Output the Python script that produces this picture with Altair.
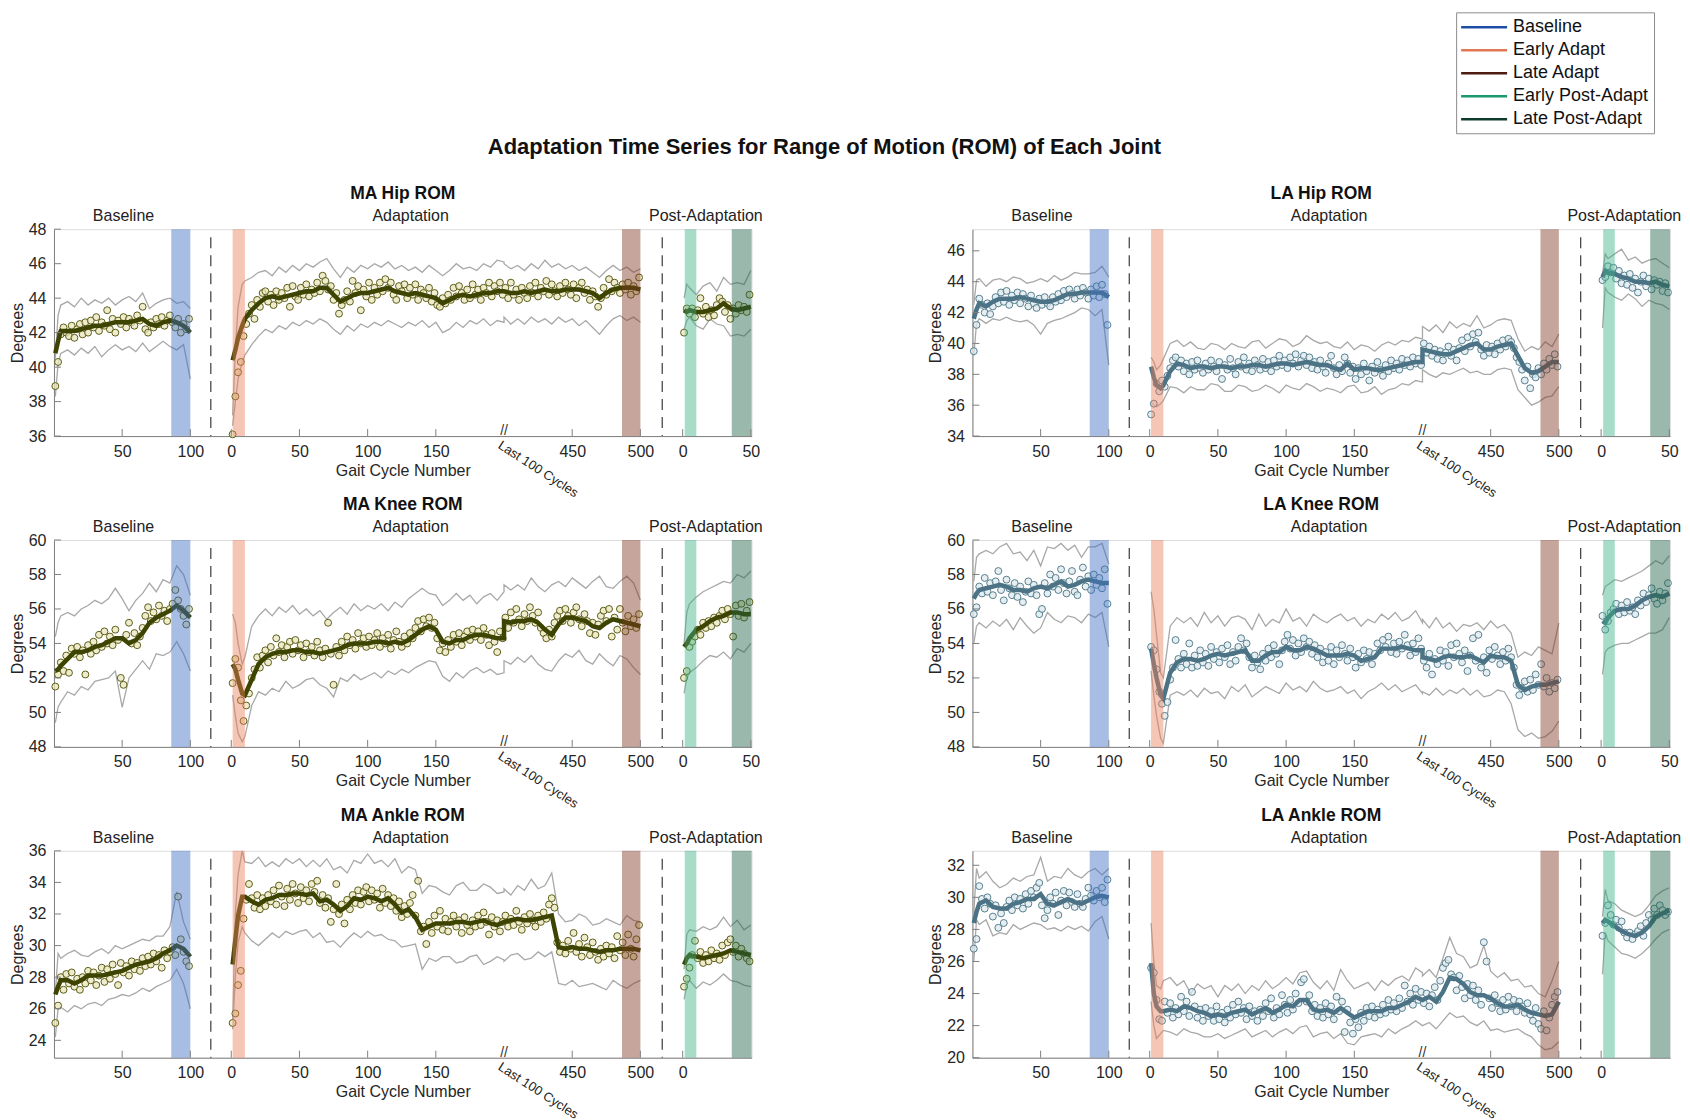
import altair as alt
import pandas as pd

# ---------------- sampling cycles (per phase) ----------------
BASE_LINE_C = [1, 3, 5] + list(range(10, 101, 5))
ADAPT_LINE_C = [1, 3, 5, 8] + list(range(10, 201, 5)) + list(range(400, 501, 5))
POST_LINE_C = [1, 3, 5] + list(range(10, 51, 5))
BASE_PT_C = list(range(1, 100, 2))
ADAPT_PT_C = list(range(1, 200, 2)) + list(range(401, 500, 2))
POST_PT_C = list(range(1, 50, 2))

# ---------------- MA Hip ----------------
MA_HIP_MEAN_B = [40.8, 41.5, 42.1, 42.1, 42.1, 42.2, 42.3, 42.4, 42.4, 42.5, 42.6, 42.6, 42.6, 42.7, 42.8, 42.5, 42.4, 42.6, 42.7, 42.6, 42.4, 42.0]
MA_HIP_UP_B = [40.5, 43.0, 43.6, 43.8, 43.5, 44.0, 43.6, 43.9, 43.7, 44.0, 43.6, 43.9, 44.1, 43.8, 44.3, 43.4, 43.7, 43.9, 44.0, 43.7, 43.8, 43.4]
MA_HIP_LO_B = [38.3, 40.2, 40.8, 41.0, 40.7, 41.1, 40.8, 41.2, 40.6, 41.0, 41.3, 41.0, 41.2, 40.9, 41.4, 40.9, 41.2, 41.5, 41.2, 41.0, 41.3, 39.3]
MA_HIP_MEAN_A = [40.4, 41.0, 41.7, 42.4,
                 42.8, 43.3, 43.7, 44.0, 44.1, 44.0, 44.1, 44.2, 44.3, 44.4,
                 44.4, 44.6, 44.6, 44.2, 43.8, 44.0, 44.2, 44.3, 44.3, 44.4,
                 44.5, 44.6, 44.4, 44.3, 44.2, 44.3, 44.2, 44.1, 44.0, 43.7,
                 43.9, 44.1, 44.2, 44.1, 44.2, 44.3, 44.3, 44.4, 44.4,
                 44.4, 44.3, 44.3, 44.4, 44.3, 44.4, 44.5, 44.4, 44.4, 44.5,
                 44.5, 44.5, 44.4, 44.3, 44.0, 44.3, 44.5, 44.6, 44.6, 44.6, 44.5]
MA_HIP_UP_A = [37.2, 41.0, 43.5, 44.8,
               45.0, 45.2, 45.5, 45.6, 45.3, 45.8, 45.5, 45.9, 45.6, 46.0,
               45.8, 46.1, 46.3, 45.7, 45.2, 45.8, 45.5, 45.9, 45.7, 46.0,
               45.8, 46.1, 45.7, 45.9, 45.6, 45.8, 45.5, 45.9, 45.6, 45.3,
               45.6, 46.0, 45.7, 45.8, 45.6, 46.0, 45.8, 46.2, 46.1,
               46.0, 45.7, 45.9, 45.6, 46.0, 45.7, 46.2, 45.8, 46.0, 45.7,
               45.9, 45.6, 45.8, 45.5, 45.2, 45.6, 45.9, 45.6, 45.8, 45.5, 45.7]
MA_HIP_LO_A = [36.6, 38.0, 39.3, 40.3,
               40.7, 41.3, 41.8, 42.2, 42.0, 42.4, 42.2, 42.6, 42.4, 42.7,
               42.5, 42.8, 42.6, 42.2, 41.9, 42.4, 42.1, 42.5, 42.3, 42.6,
               42.4, 42.7, 42.5, 42.3, 42.6, 42.4, 42.7, 42.3, 42.6, 42.0,
               42.2, 42.6, 42.3, 42.7, 42.5, 42.8, 42.4, 42.7, 42.6,
               42.9, 42.5, 42.8, 42.5, 42.9, 42.6, 42.8, 42.5, 42.9, 42.6,
               42.8, 42.4, 42.7, 42.3, 41.9, 42.4, 42.8, 43.0, 42.7, 42.9, 42.6]
MA_HIP_MEAN_P = [43.3, 43.2, 43.3, 43.2, 43.2, 43.3, 43.4, 43.7, 43.4, 43.3, 43.4, 43.5]
MA_HIP_UP_P = [44.0, 44.8, 44.6, 44.2, 44.7, 44.9, 44.4, 45.2, 44.8, 44.9, 44.8, 45.6]
MA_HIP_LO_P = [42.2, 42.7, 42.9, 42.4, 42.2, 42.8, 42.5, 42.4, 41.8, 41.9, 41.8, 42.2]
MA_HIP_PTS_B = [38.9, 40.3, 41.9, 42.3, 42.0, 41.8, 42.4, 41.7, 42.2, 42.5,
                41.9, 42.6, 42.0, 42.7, 42.3, 42.9, 42.1, 42.6, 42.4, 43.3,
                42.2, 42.8, 42.0, 42.7, 42.5, 42.9, 42.3, 42.8, 42.6, 42.4,
                43.0, 42.7, 43.5, 42.2, 42.0, 42.6, 42.3, 42.8, 42.5, 42.9,
                42.4, 42.7, 43.0, 42.6, 42.3, 42.8, 42.0, 42.5, 42.2, 42.8]
MA_HIP_PTS_A = [36.1, 38.3, 39.7, 40.3, 41.8, 42.5, 43.1, 43.6, 42.8, 43.9,
                43.5, 44.3, 44.4, 43.8, 44.2, 43.6, 44.4, 43.9, 44.3, 44.0,
                44.6, 43.5, 44.7, 44.1, 43.9, 44.6, 44.2, 44.8, 44.1, 44.5,
                44.3, 44.9, 44.4, 45.3, 45.0, 44.5, 44.7, 43.9, 44.3, 43.1,
                43.6, 43.9, 44.4, 43.8, 45.0, 44.3, 44.7, 43.3, 44.5, 44.1,
                44.9, 43.9, 44.6, 44.2, 44.9, 44.4, 45.1, 44.6, 44.9, 44.2,
                43.9, 44.7, 44.4, 44.8, 44.0, 44.6, 44.2, 44.8, 43.9, 44.5,
                44.3, 44.0, 44.6, 43.8, 44.3, 43.6, 43.5, 44.0, 43.7, 44.2,
                43.9, 44.6, 44.1, 44.7, 44.3, 43.9, 44.5, 44.0, 44.8, 44.2,
                44.5, 43.9, 44.6, 44.3, 44.9, 44.1, 44.7, 44.4, 44.9, 44.2,
                44.6, 44.0, 44.9, 44.2, 44.5, 43.9, 44.6, 44.3, 44.0, 44.7,
                44.3, 44.9, 44.1, 44.6, 44.4, 45.0, 44.2, 44.8, 44.4, 44.1,
                44.7, 44.3, 44.9, 44.5, 44.2, 44.8, 44.0, 44.6, 44.9, 44.3,
                44.5, 43.9, 44.4, 44.1, 43.5, 44.0, 44.6, 44.2, 45.1, 44.4,
                44.9, 44.6, 44.3, 44.8, 44.5, 44.9, 44.2, 44.7, 44.4, 45.2]
MA_HIP_PTS_P = [42.0, 43.4, 43.1, 43.4, 42.9, 43.3, 44.0, 43.1, 43.5, 42.9,
                43.3, 43.0, 43.6, 44.0, 43.8, 43.2, 43.6, 42.8, 43.4, 43.1,
                43.6, 43.3, 43.5, 43.2, 44.2]

# ---------------- MA Knee ----------------
MA_KNEE_MEAN_B = [52.4, 52.5, 52.7, 53.1, 53.5, 53.5, 53.6, 53.8, 53.9, 54.1, 54.3, 54.3, 54.0, 54.2, 54.6, 55.2, 55.5, 55.7, 55.9, 56.2, 55.9, 55.5]
MA_KNEE_UP_B = [54.4, 55.2, 55.6, 55.8, 55.6, 56.0, 56.2, 56.5, 56.3, 56.6, 57.2, 56.6, 55.9, 56.5, 56.9, 57.5, 57.0, 57.7, 57.5, 58.5, 58.0, 56.8]
MA_KNEE_LO_B = [49.4, 50.3, 50.6, 51.2, 51.0, 51.5, 51.3, 51.8, 51.9, 52.0, 52.4, 50.3, 52.0, 52.5, 53.0, 52.5, 53.4, 53.3, 53.5, 54.1, 53.4, 52.4]
MA_KNEE_MEAN_A = [52.8, 52.5, 51.9, 51.1,
                  51.0, 51.9, 52.8, 53.2, 53.4, 53.5, 53.5, 53.6, 53.6, 53.5,
                  53.5, 53.4, 53.5, 53.6, 53.7, 53.9, 54.0, 54.0, 54.0, 54.1,
                  54.1, 54.0, 54.1, 54.0, 54.2, 54.5, 54.8, 55.0, 54.8, 54.1,
                  54.0, 54.2, 54.2, 54.4, 54.5, 54.5, 54.4, 54.3, 54.3,
                  55.3, 55.2, 55.3, 55.3, 55.4, 55.2, 54.8, 54.5, 55.1, 55.5,
                  55.5, 55.4, 55.3, 55.0, 54.9, 55.2, 55.4, 55.3, 55.2, 55.1, 55.0]
MA_KNEE_UP_A = [55.7, 55.2, 54.0, 52.8,
                53.2, 55.0, 55.6, 56.0, 55.6, 56.1, 55.8, 56.2, 55.7, 56.0,
                55.6, 55.9, 55.4, 55.8, 56.1, 55.7, 56.3, 55.9, 56.2, 56.0,
                56.3, 55.9, 56.4, 56.1, 56.6, 56.9, 57.2, 56.9, 56.8, 56.2,
                56.5, 56.9, 56.5, 56.8, 56.3, 56.7, 56.9, 56.5, 57.0,
                57.4, 57.1, 57.4, 57.1, 57.8, 57.3, 57.0, 57.4, 57.6, 57.3,
                57.8, 57.5, 57.2, 57.6, 57.9, 57.3, 57.2, 57.6, 57.9, 57.5, 56.5]
MA_KNEE_LO_A = [51.0, 49.8, 48.8, 48.3,
                48.6, 50.4, 51.2, 51.0, 51.4, 51.2, 51.8, 51.4, 51.6, 51.9,
                52.0, 51.6, 51.4, 50.9, 52.0, 51.8, 52.2, 51.9, 52.1, 52.3,
                52.0, 52.4, 52.2, 52.5, 52.3, 52.6, 52.8, 53.0, 52.9, 52.1,
                51.8, 52.3, 52.0, 52.4, 52.6, 52.3, 52.5, 52.2, 52.3,
                53.0, 52.8, 53.2, 52.9, 53.3, 52.8, 52.5, 52.4, 53.0, 53.4,
                53.2, 53.6, 53.0, 52.8, 53.4, 53.0, 52.7, 53.3, 53.1, 52.6, 52.2]
MA_KNEE_MEAN_P = [53.8, 54.0, 54.3, 54.8, 55.0, 55.3, 55.5, 55.6, 55.8, 55.8, 55.7, 55.7]
MA_KNEE_UP_P = [54.0, 55.8, 56.3, 56.7, 57.0, 57.2, 57.4, 57.6, 57.5, 58.0, 57.8, 58.2]
MA_KNEE_LO_P = [51.1, 52.0, 52.3, 52.6, 53.0, 53.3, 53.2, 53.5, 53.1, 53.7, 53.5, 54.0]
MA_KNEE_PTS_B = [51.5, 52.2, 52.9, 52.4, 53.3, 52.3, 53.7, 53.4, 53.8, 53.2,
                 53.6, 52.2, 53.9, 53.4, 54.1, 53.6, 54.5, 53.8, 54.7, 54.0,
                 54.4, 53.9, 54.8, 54.2, 52.0, 51.6, 54.5, 55.2, 54.0, 54.6,
                 53.9, 54.4, 54.9, 55.6, 56.1, 55.3, 55.8, 55.4, 56.2, 55.6,
                 55.9, 55.3, 56.0, 56.3, 57.1, 56.5, 56.0, 55.6, 55.1, 56.0]
MA_KNEE_PTS_A = [51.7, 53.1, 52.6, 50.7, 49.5, 50.4, 51.1, 52.0, 52.5, 53.2,
                 52.6, 53.3, 53.6, 52.9, 53.8, 53.3, 54.3, 53.5, 53.9, 53.2,
                 53.8, 54.1, 53.4, 54.2, 53.6, 53.9, 53.2, 54.0, 53.5, 53.8,
                 53.3, 54.1, 53.6, 53.2, 53.7, 55.2, 53.4, 51.6, 53.8, 53.3,
                 54.1, 53.6, 54.4, 53.9, 54.2, 53.7, 54.6, 54.0, 54.3, 53.8,
                 54.4, 53.9, 54.2, 54.6, 53.8, 54.3, 54.0, 54.5, 53.7, 54.2,
                 54.7, 54.1, 53.8, 54.4, 54.0, 54.6, 54.3, 54.9, 55.3, 54.7,
                 55.4, 55.0, 55.5, 54.9, 55.2, 54.3, 53.6, 54.0, 53.5, 54.2,
                 53.8, 54.5, 54.1, 54.6, 53.9, 54.4, 54.7, 54.2, 54.8, 54.4,
                 54.7, 54.2, 54.9, 54.5, 53.9, 54.6, 54.1, 53.5, 54.7, 54.3,
                 55.5, 54.9, 55.8, 55.2, 56.0, 55.4, 55.0, 55.7, 55.3, 56.1,
                 55.6, 55.2, 55.8, 54.9, 54.6, 54.3, 54.8, 54.4, 55.2, 55.6,
                 55.9, 55.3, 56.0, 55.6, 55.2, 55.8, 56.1, 55.4, 55.0, 55.7,
                 55.3, 54.6, 55.2, 54.5, 55.1, 55.6, 55.9, 55.3, 56.0, 54.4,
                 55.5, 54.8, 56.0, 55.2, 54.7, 55.6, 55.0, 55.4, 54.9, 55.7]
MA_KNEE_PTS_P = [52.0, 52.4, 53.8, 54.1, 54.4, 54.8, 54.5, 55.2, 54.9, 55.3,
                 55.0, 55.5, 55.2, 55.6, 55.9, 55.4, 56.0, 55.7, 54.4, 56.2,
                 55.6, 56.3, 55.5, 55.9, 56.4]

# ---------------- MA Ankle ----------------
MA_ANK_MEAN_B = [26.9, 27.4, 27.8, 27.8, 27.6, 27.8, 28.1, 28.1, 28.1, 28.2, 28.3, 28.4, 28.6, 28.8, 28.9, 29.0, 29.2, 29.5, 29.7, 30.0, 29.8, 29.3]
MA_ANK_UP_B = [27.0, 29.5, 29.2, 29.5, 29.7, 29.4, 29.3, 29.6, 29.8, 29.5, 30.0, 29.8, 30.0, 30.2, 30.4, 30.3, 30.6, 30.6, 31.2, 33.4, 31.5, 30.4]
MA_ANK_LO_B = [24.2, 26.0, 26.1, 25.8, 26.2, 26.0, 26.3, 26.4, 26.2, 26.6, 26.7, 26.9, 26.8, 27.0, 27.3, 27.1, 27.4, 27.6, 27.8, 28.5, 27.6, 26.0]
MA_ANK_MEAN_A = [28.8, 30.4, 31.9, 33.1,
                 33.1, 32.8, 32.6, 32.9, 33.0, 33.2, 33.2, 33.3, 33.3, 33.2,
                 33.3, 32.8, 32.9, 32.6, 32.2, 32.5, 33.0, 32.9, 33.1, 33.0,
                 32.8, 33.0, 32.6, 32.1, 32.3, 31.8, 31.0, 31.2, 31.4, 31.4,
                 31.4, 31.5, 31.5, 31.4, 31.5, 31.6, 31.4, 31.3, 31.5,
                 31.5, 31.6, 31.7, 31.6, 31.6, 31.7, 31.8, 31.9, 29.9, 29.8,
                 29.9, 29.8, 29.8, 29.7, 29.6, 29.7, 29.7, 29.8, 29.8, 29.8, 29.7]
MA_ANK_UP_A = [25.0, 32.0, 34.5, 36.0,
               35.3, 35.2, 35.6, 35.0, 35.3, 35.0, 35.5, 35.2, 35.5, 35.0,
               35.4, 35.0, 35.5, 34.8, 35.0, 34.6, 35.4, 35.2, 35.8, 35.2,
               35.4, 35.0, 35.5, 34.6, 35.0, 34.8, 33.3, 33.8, 33.7, 33.4,
               33.2, 33.8, 34.0, 33.5, 33.5, 33.9, 33.7, 33.3, 33.4,
               33.6, 33.2, 33.8, 33.5, 34.2, 33.6, 33.8, 34.6, 32.0, 31.5,
               31.6, 32.0, 31.8, 31.3, 31.4, 31.7, 31.5, 31.3, 31.9, 31.6, 31.5]
MA_ANK_LO_A = [24.7, 28.0, 30.2, 31.2,
               30.8, 30.3, 30.0, 30.4, 30.8, 30.5, 30.9, 30.7, 30.9, 31.0,
               30.5, 30.8, 30.2, 30.3, 29.9, 30.4, 30.8, 30.5, 30.9, 30.6,
               30.7, 30.4, 30.3, 29.9, 30.0, 30.1, 28.5, 29.2, 29.0, 29.3,
               29.3, 28.9, 29.0, 29.3, 29.4, 28.8, 29.0, 29.3, 29.1,
               29.0, 29.4, 29.5, 29.1, 29.2, 29.6, 29.3, 29.6, 27.6, 27.5,
               27.8, 27.4, 27.5, 27.6, 27.4, 27.2, 27.8, 27.5, 27.3, 27.6, 27.8]
MA_ANK_MEAN_P = [28.8, 29.2, 29.4, 29.3, 29.2, 29.3, 29.4, 29.5, 29.7, 29.6, 29.5, 29.4]
MA_ANK_UP_P = [28.5, 30.7, 31.0, 30.9, 31.2, 31.0, 31.2, 31.8, 31.2, 31.6, 31.0, 31.3]
MA_ANK_LO_P = [26.6, 27.5, 27.8, 27.3, 27.7, 27.5, 27.8, 28.2, 27.8, 27.7, 27.5, 27.4]
MA_ANK_PTS_B = [25.1, 26.2, 28.0, 27.2, 28.2, 27.6, 28.3, 27.4, 27.9, 27.2,
                28.0, 27.6, 28.4, 27.8, 28.3, 27.5, 28.1, 28.6, 27.7, 28.5,
                27.9, 28.8, 28.2, 27.5, 28.9, 28.3, 28.7, 28.1, 29.0, 28.5,
                28.9, 28.4, 29.2, 28.7, 29.3, 28.8, 29.5, 29.0, 29.4, 28.6,
                29.7, 29.2, 29.6, 29.9, 29.4, 33.1, 30.4, 29.6, 29.0, 28.7]
MA_ANK_PTS_A = [25.1, 25.7, 27.5, 28.4, 31.7, 32.9, 33.9, 33.0, 32.4, 33.2,
                32.3, 33.0, 32.5, 33.2, 32.8, 33.5, 32.6, 33.8, 33.1, 32.5,
                33.6, 32.9, 33.9, 33.3, 32.7, 33.7, 33.0, 33.5, 32.8, 33.9,
                33.4, 34.1, 32.7, 33.2, 32.4, 33.0, 31.5, 32.3, 33.9, 32.0,
                32.6, 31.4, 32.9, 32.3, 33.2, 32.7, 33.5, 32.6, 33.4, 33.7,
                32.8, 33.5, 32.9, 33.3, 32.4, 33.6, 32.7, 33.2, 32.5, 33.0,
                32.2, 32.8, 31.8, 32.5, 32.0, 32.7, 33.2, 31.9, 34.1, 30.9,
                31.2, 30.1, 31.5, 30.8, 31.9, 31.2, 32.2, 31.0, 31.7, 30.9,
                31.5, 31.9, 31.2, 31.6, 30.8, 31.8, 31.3, 30.9, 31.6, 31.2,
                31.9, 31.3, 32.1, 31.5, 30.7, 31.8, 31.2, 31.6, 30.9, 31.5,
                31.9, 31.2, 31.7, 31.3, 32.2, 31.5, 31.0, 31.8, 31.4, 32.0,
                31.6, 31.2, 31.9, 31.5, 32.1, 31.7, 32.6, 33.0, 32.4, 30.2,
                29.6, 30.0, 29.5, 30.3, 29.8, 30.8, 29.6, 30.1, 29.3, 30.5,
                29.9, 29.4, 30.2, 29.6, 29.1, 29.8, 29.3, 30.0, 29.5, 29.9,
                29.2, 30.6, 29.7, 30.2, 29.4, 30.7, 29.8, 29.3, 30.4, 31.3]
MA_ANK_PTS_P = [27.4, 27.9, 28.6, 29.4, 30.3, 29.2, 29.6, 28.9, 29.4, 29.0,
                29.7, 29.2, 29.5, 29.1, 30.0, 29.4, 30.2, 30.4, 29.6, 30.0,
                29.3, 29.8, 29.5, 29.2, 29.0]

# ---------------- LA Hip ----------------
LA_HIP_MEAN_B = [41.6, 42.2, 42.6, 42.4, 42.7, 42.9, 42.9, 42.9, 43.0, 42.9, 42.8, 42.7, 42.7, 42.8, 43.0, 43.2, 43.2, 43.3, 43.3, 43.3, 43.3, 43.0]
LA_HIP_UP_B = [42.5, 44.1, 44.2, 43.7, 44.1, 44.2, 44.0, 44.3, 44.2, 43.9, 44.0, 44.2, 44.0, 44.4, 44.1, 44.3, 44.6, 44.5, 44.5, 44.6, 45.0, 44.3]
LA_HIP_LO_B = [39.2, 41.3, 41.6, 41.3, 41.6, 41.5, 41.7, 41.5, 41.4, 41.5, 41.2, 40.6, 41.3, 41.5, 41.6, 41.8, 42.0, 42.3, 42.2, 41.8, 42.2, 38.6]
LA_HIP_MEAN_A = [38.5, 37.8, 37.3, 37.1,
                 37.3, 38.2, 38.7, 38.6, 38.4, 38.5, 38.5, 38.4, 38.5, 38.5,
                 38.4, 38.5, 38.5, 38.6, 38.6, 38.5, 38.6, 38.7, 38.7, 38.6,
                 38.7, 38.8, 38.7, 38.6, 38.6, 38.4, 38.3, 38.7, 38.3, 38.4,
                 38.4, 38.3, 38.3, 38.4, 38.5, 38.6, 38.7, 38.8, 38.8,
                 39.6, 39.5, 39.4, 39.3, 39.3, 39.5, 39.7, 39.9, 40.0, 39.6,
                 39.6, 39.8, 39.9, 40.0, 39.2, 38.4, 38.1, 38.2, 38.5, 38.8, 38.8]
LA_HIP_UP_A = [39.1, 38.8, 38.3, 38.6,
               39.0, 40.0, 40.2, 39.8, 40.1, 39.7, 39.6, 40.0, 39.9, 39.6,
               40.0, 39.8, 39.7, 40.1, 40.2, 39.7, 40.0, 40.3, 40.2, 39.8,
               40.0, 40.5, 40.2, 40.0, 40.1, 39.8, 39.7, 40.1, 39.6, 39.9,
               39.8, 39.5, 39.9, 40.1, 39.9, 40.2, 40.1, 40.4, 40.3,
               41.1, 40.8, 41.2, 40.7, 41.4, 41.0, 41.3, 41.1, 41.8, 41.0,
               41.2, 41.5, 41.6, 41.5, 40.3, 39.5, 39.8, 39.6, 40.1, 39.8, 40.6]
LA_HIP_LO_A = [36.2, 36.0, 35.9, 36.1,
               36.3, 37.2, 37.1, 36.8, 37.2, 37.0, 37.0, 37.4, 37.3, 36.9,
               36.9, 37.3, 37.2, 36.9, 37.0, 37.3, 37.1, 36.8, 37.3, 37.1,
               37.0, 37.4, 37.2, 36.9, 37.1, 37.0, 36.8, 37.2, 37.3, 36.8,
               36.9, 37.2, 36.7, 37.0, 37.1, 37.4, 37.3, 37.6, 37.5,
               38.3, 38.0, 37.8, 38.1, 38.0, 38.2, 38.4, 38.1, 38.2, 38.0,
               38.0, 38.3, 38.4, 38.3, 37.0, 36.5, 36.0, 36.2, 36.5, 36.6, 37.2]
LA_HIP_MEAN_P = [44.3, 44.7, 44.6, 44.5, 44.3, 44.2, 44.0, 44.0, 43.9, 44.0, 43.8, 43.7]
LA_HIP_UP_P = [44.5, 45.8, 45.5, 45.8, 46.1, 45.4, 45.6, 45.2, 45.4, 45.5, 45.2, 44.9]
LA_HIP_LO_P = [41.0, 43.6, 43.3, 43.0, 42.8, 43.2, 42.9, 42.4, 42.8, 42.6, 42.5, 42.2]
LA_HIP_PTS_B = [39.5, 41.2, 42.9, 42.5, 42.0, 42.6, 41.9, 42.4, 43.0, 42.6,
                43.3, 42.7, 43.4, 42.5, 43.1, 42.8, 43.3, 42.6, 43.2, 42.9,
                42.4, 43.1, 42.6, 42.3, 42.9, 42.5, 43.0, 42.6, 42.4, 43.0,
                42.7, 43.2, 42.8, 43.4, 43.0, 43.5, 43.2, 42.9, 43.5, 43.1,
                43.6, 43.3, 42.9, 43.5, 43.1, 43.7, 43.0, 43.8, 43.2, 41.2]
LA_HIP_PTS_A = [35.4, 36.1, 37.4, 36.9, 37.6, 37.2, 37.9, 38.4, 38.9, 39.1,
                38.5, 38.9, 38.2, 38.7, 38.0, 38.8, 38.3, 38.9, 38.4, 38.1,
                38.7, 38.3, 38.9, 38.5, 38.2, 38.8, 37.7, 38.6, 38.3, 39.0,
                38.4, 38.0, 38.8, 38.5, 39.1, 38.3, 38.7, 38.2, 38.9, 38.6,
                38.3, 39.0, 38.4, 38.8, 38.2, 38.9, 38.5, 39.2, 38.6, 38.9,
                38.4, 39.1, 38.7, 39.3, 38.5, 38.9, 39.2, 38.6, 39.1, 38.4,
                38.8, 38.3, 38.9, 38.5, 38.1, 38.7, 39.2, 38.4, 38.0, 38.6,
                38.2, 39.1, 38.7, 38.1, 38.5, 37.7, 38.4, 38.0, 38.7, 38.2,
                37.6, 38.5, 38.1, 38.8, 38.3, 37.9, 38.6, 38.2, 38.9, 38.4,
                38.7, 38.3, 39.0, 38.6, 38.9, 38.5, 39.1, 38.7, 39.0, 38.6,
                40.0, 39.4, 39.8, 39.2, 39.6, 39.0, 39.5, 38.9, 39.4, 39.8,
                39.2, 39.6, 38.9, 39.7, 40.2, 39.5, 40.4, 39.8, 40.6, 40.1,
                40.7, 39.6, 39.2, 39.9, 39.4, 39.8, 39.3, 40.0, 39.6, 40.2,
                39.8, 40.3, 40.1, 39.7, 39.1, 38.8, 38.3, 37.6, 38.5, 37.1,
                38.0, 37.8, 38.4, 38.0, 38.7, 38.3, 39.0, 38.6, 39.3, 38.5]
LA_HIP_PTS_P = [44.1, 44.3, 45.0, 44.6, 44.9, 44.2, 44.7, 43.9, 44.4, 43.8,
                44.5, 43.6, 44.2, 43.3, 44.0, 44.4, 43.7, 44.2, 43.5, 44.1,
                43.8, 44.0, 43.4, 43.9, 43.3]

# ---------------- LA Knee ----------------
LA_KNEE_MEAN_B = [56.6, 56.9, 57.1, 57.2, 57.3, 57.4, 57.3, 57.1, 57.1, 57.0, 57.2, 57.3, 57.2, 57.4, 57.6, 57.3, 57.4, 57.6, 57.7, 57.6, 57.5, 57.5]
LA_KNEE_UP_B = [57.6, 59.0, 59.2, 59.4, 59.2, 59.6, 59.8, 59.2, 59.3, 58.8, 59.4, 58.5, 59.6, 59.5, 59.8, 59.4, 59.7, 59.0, 59.6, 59.6, 59.8, 58.6]
LA_KNEE_LO_B = [54.0, 55.0, 55.2, 54.9, 55.3, 55.0, 55.4, 54.8, 55.5, 55.0, 54.6, 54.9, 55.8, 55.4, 55.2, 55.6, 55.5, 55.2, 55.7, 55.5, 55.8, 53.8]
LA_KNEE_MEAN_A = [53.7, 52.8, 52.0, 51.0,
                  50.8, 52.3, 52.9, 53.1, 53.1, 53.0, 53.1, 53.3, 53.4, 53.3,
                  53.4, 53.5, 53.6, 53.0, 53.0, 53.3, 53.5, 53.5, 53.8, 53.6,
                  53.6, 53.8, 53.7, 53.5, 53.3, 53.3, 53.3, 53.4, 53.3, 53.0,
                  53.1, 53.2, 53.7, 53.7, 53.7, 53.8, 53.7, 53.6, 53.6,
                  53.2, 53.1, 53.0, 53.2, 53.3, 53.2, 53.2, 53.3, 53.1, 52.9,
                  53.3, 53.2, 53.2, 53.0, 51.6, 51.3, 51.5, 51.6, 51.6, 51.7, 51.8]
LA_KNEE_UP_A = [57.0, 56.0, 54.5, 52.3,
                52.0, 55.0, 55.5, 55.2, 55.5, 55.0, 55.8, 55.2, 55.6, 55.0,
                55.5, 55.6, 55.4, 54.8, 55.7, 55.0, 55.4, 55.2, 56.0, 55.3,
                55.5, 55.0, 55.7, 55.4, 55.2, 55.5, 55.7, 55.3, 55.5, 55.0,
                55.4, 55.2, 55.7, 55.4, 55.8, 55.3, 55.5, 55.9, 55.2,
                55.4, 54.9, 55.5, 54.9, 55.2, 54.7, 55.1, 55.0, 55.2, 54.8,
                55.3, 54.9, 55.1, 54.6, 53.2, 53.5, 53.3, 53.8, 53.6, 53.4, 55.2]
LA_KNEE_LO_A = [52.4, 51.0, 49.8, 48.5,
                48.2, 51.0, 51.2, 51.0, 51.3, 50.9, 51.4, 51.1, 51.2, 50.8,
                51.5, 51.2, 51.6, 50.9, 51.2, 51.5, 51.3, 51.1, 51.7, 51.3,
                51.5, 51.2, 51.8, 51.4, 51.2, 51.3, 51.5, 51.1, 51.3, 50.8,
                51.2, 51.4, 51.7, 51.3, 51.6, 51.2, 51.4, 51.6, 51.1,
                51.2, 51.0, 51.4, 51.0, 51.3, 51.1, 51.4, 51.0, 51.3, 50.9,
                51.0, 51.3, 51.2, 50.5, 49.0, 48.6, 48.8, 48.5, 48.6, 48.9, 49.5]
LA_KNEE_MEAN_P = [55.3, 55.2, 55.5, 55.9, 56.0, 56.0, 56.2, 56.5, 56.7, 56.8, 56.7, 56.9]
LA_KNEE_UP_P = [56.8, 57.3, 57.4, 57.7, 57.6, 57.8, 58.0, 58.2, 58.5, 58.8, 58.6, 59.1]
LA_KNEE_LO_P = [52.2, 53.5, 53.7, 53.9, 54.0, 54.0, 54.2, 54.4, 54.6, 54.6, 54.8, 55.5]
LA_KNEE_PTS_B = [55.7, 56.1, 57.3, 56.9, 57.8, 57.0, 57.5, 56.8, 57.6, 58.2,
                 57.1, 56.5, 57.7, 57.2, 56.8, 57.5, 56.7, 57.3, 56.4, 57.0,
                 57.6, 56.9, 57.4, 56.8, 55.7, 56.0, 57.5, 56.9, 58.0, 57.3,
                 57.8, 57.1, 58.3, 57.5, 56.9, 57.6, 58.2, 57.0, 56.8, 57.7,
                 58.4, 57.3, 57.9, 57.1, 58.0, 57.4, 57.8, 57.2, 58.3, 56.3]
LA_KNEE_PTS_A = [53.8, 53.6, 52.5, 51.2, 50.5, 49.8, 50.6, 51.9, 52.6, 54.2,
                 53.1, 52.6, 53.4, 52.8, 54.0, 52.6, 53.3, 52.7, 53.6, 52.9,
                 53.4, 52.7, 53.8, 53.1, 53.5, 52.9, 53.7, 53.2, 53.9, 52.8,
                 53.5, 53.0, 53.8, 54.3, 53.6, 54.0, 53.2, 52.6, 53.3, 52.9,
                 52.5, 53.4, 53.0, 53.7, 53.2, 53.9, 53.4, 52.8, 53.6, 54.1,
                 54.5, 53.7, 54.2, 53.3, 54.0, 53.5, 54.3, 53.8, 54.1, 53.4,
                 53.9, 53.2, 53.7, 52.9, 53.5, 53.0, 53.8, 52.8, 53.6, 53.2,
                 53.9, 53.4, 53.0, 53.7, 53.2, 52.6, 53.4, 52.9, 53.6, 53.1,
                 53.5, 52.8, 53.4, 54.0, 53.6, 54.2, 53.8, 54.4, 53.5, 54.0,
                 53.4, 54.1, 53.7, 54.5, 53.9, 53.3, 54.0, 53.5, 54.3, 53.7,
                 53.0, 52.6, 53.4, 52.2, 53.1, 52.8, 53.6, 53.0, 53.5, 52.7,
                 53.9, 53.2, 54.0, 53.4, 52.9, 53.6, 52.4, 53.3, 54.3, 53.0,
                 54.5, 52.6, 53.2, 52.3, 53.6, 53.1, 53.8, 53.3, 52.8, 53.5,
                 53.0, 53.7, 53.2, 52.6, 51.6, 51.0, 51.4, 51.8, 51.2, 51.9,
                 51.3, 52.2, 51.6, 52.8, 51.5, 52.0, 51.2, 51.7, 51.4, 51.9]
LA_KNEE_PTS_P = [55.6, 54.8, 55.3, 55.8, 56.0, 56.3, 55.7, 56.2, 55.8, 56.4,
                 55.9, 56.1, 55.7, 56.5, 56.2, 56.9, 56.4, 56.8, 57.2, 56.6,
                 56.3, 57.0, 56.5, 56.9, 57.5]

# ---------------- LA Ankle ----------------
LA_ANK_MEAN_B = [28.4, 29.1, 29.6, 29.8, 29.4, 29.3, 29.3, 29.6, 29.7, 29.9, 29.9, 30.2, 29.6, 29.5, 29.7, 29.9, 29.7, 29.6, 29.8, 30.0, 30.1, 30.0]
LA_ANK_UP_B = [29.0, 31.8, 31.2, 31.6, 31.0, 30.6, 30.8, 31.2, 31.0, 31.3, 31.4, 32.5, 31.0, 31.3, 31.2, 31.8, 31.4, 31.2, 31.6, 31.8, 31.4, 31.8]
LA_ANK_LO_B = [26.0, 28.6, 28.3, 28.6, 27.6, 27.8, 27.7, 28.3, 28.0, 28.2, 28.4, 28.3, 28.0, 28.1, 27.9, 28.2, 28.0, 28.2, 27.9, 28.5, 28.8, 27.4]
LA_ANK_MEAN_A = [25.9, 24.0, 23.2, 22.9,
                 22.9, 23.0, 22.9, 23.2, 23.1, 22.9, 22.8, 22.6, 22.7, 22.6,
                 22.8, 22.9, 23.0, 22.7, 22.9, 23.1, 22.8, 23.0, 23.3, 23.2,
                 23.6, 23.6, 23.0, 22.9, 23.0, 22.8, 23.1, 22.8, 22.5, 22.7,
                 22.9, 22.9, 22.9, 23.1, 23.1, 23.3, 23.5, 23.8, 23.6,
                 23.6, 23.8, 23.5, 24.1, 25.0, 24.9, 24.6, 24.1, 23.9, 23.9,
                 23.7, 23.4, 23.2, 23.2, 23.3, 23.0, 22.8, 22.7, 22.6, 22.7, 23.5]
LA_ANK_UP_A = [28.4, 26.0, 24.5, 24.3,
               24.8, 25.0, 24.5, 24.8, 24.0, 24.6, 24.3, 24.5, 23.8, 24.5,
               24.2, 24.6, 24.0, 24.5, 24.2, 24.8, 24.3, 24.6, 25.0, 24.6,
               25.3, 25.4, 24.7, 24.3, 24.8, 24.2, 25.5, 24.8, 24.3, 24.5,
               24.7, 24.2, 24.8, 24.5, 24.9, 25.1, 24.8, 25.6, 25.3,
               25.1, 25.5, 25.0, 26.2, 27.5, 26.5, 26.3, 25.6, 25.8, 27.0,
               25.4, 25.0, 25.3, 24.8, 24.9, 24.4, 24.5, 24.0, 23.8, 24.8, 26.0]
LA_ANK_LO_A = [23.5, 22.0, 21.2, 21.5,
               21.7, 21.6, 21.4, 21.8, 21.6, 21.5, 21.3, 21.3, 21.5, 21.2,
               21.4, 21.6, 21.8, 21.3, 21.5, 21.7, 21.3, 21.6, 21.8, 21.5,
               21.9, 22.0, 21.3, 21.5, 21.6, 21.2, 21.5, 20.9, 20.8, 21.3,
               21.4, 21.5, 21.3, 21.8, 21.5, 21.8, 22.0, 22.3, 22.0,
               22.0, 22.2, 21.8, 22.3, 22.8, 22.5, 22.6, 22.2, 22.0, 22.3,
               21.7, 21.8, 21.6, 21.7, 21.8, 21.5, 21.3, 20.8, 20.5, 20.6, 21.0]
LA_ANK_MEAN_P = [28.4, 28.6, 28.5, 28.2, 27.9, 27.7, 27.6, 27.8, 28.2, 28.8, 29.0, 29.2]
LA_ANK_UP_P = [28.8, 30.5, 29.8, 29.6, 29.2, 29.0, 28.8, 29.0, 29.5, 30.1, 30.4, 30.6]
LA_ANK_LO_P = [25.2, 27.8, 27.3, 26.9, 26.5, 26.4, 26.2, 26.5, 26.9, 27.4, 27.8, 28.0]
LA_ANK_PTS_B = [26.8, 27.4, 30.7, 29.9, 29.3, 30.0, 29.6, 28.8, 29.5, 28.1,
                29.0, 28.4, 29.4, 29.8, 29.2, 30.0, 29.5, 29.9, 29.3, 30.2,
                29.6, 30.4, 30.0, 30.6, 30.9, 29.5, 28.7, 29.2, 30.0, 29.6,
                30.3, 28.9, 29.8, 30.4, 29.5, 30.3, 29.7, 29.4, 30.2, 29.6,
                29.4, 29.9, 30.6, 30.1, 29.8, 30.4, 30.0, 30.6, 29.7, 31.1]
LA_ANK_PTS_A = [25.6, 25.3, 23.6, 22.4, 22.3, 23.5, 22.8, 23.4, 22.5, 23.1,
                22.7, 23.8, 22.9, 23.5, 22.6, 24.1, 23.2, 22.5, 23.0, 22.3,
                23.1, 22.6, 22.9, 22.3, 23.2, 22.4, 22.8, 22.2, 23.0, 22.5,
                23.3, 22.7, 23.5, 22.8, 23.1, 22.4, 23.2, 22.6, 22.9, 22.3,
                23.0, 22.6, 23.4, 22.9, 23.7, 22.5, 23.1, 22.7, 23.9, 23.3,
                22.8, 23.6, 23.0, 24.0, 23.4, 24.7, 24.9, 23.5, 23.9, 22.9,
                23.3, 22.6, 23.1, 22.5, 23.4, 22.7, 23.2, 22.4, 23.8, 22.9,
                23.5, 21.6, 23.0, 22.2, 21.5, 22.4, 21.9, 22.8, 22.3, 23.1,
                22.6, 23.2, 22.5, 23.0, 22.7, 23.3, 22.8, 23.6, 23.0, 23.4,
                22.9, 23.7, 23.1, 24.5, 23.5, 24.0, 23.3, 24.3, 23.6, 24.1,
                23.4, 24.0, 23.2, 23.9, 24.4, 23.6, 24.8, 25.6, 25.9, 26.1,
                25.2, 25.0, 24.2, 25.1, 24.4, 23.7, 24.6, 23.9, 24.5, 23.6,
                24.2, 23.3, 27.2, 26.0, 23.7, 23.1, 23.9, 23.4, 22.9, 23.6,
                23.0, 23.8, 23.2, 23.6, 22.9, 23.5, 23.2, 22.8, 23.4, 22.7,
                22.3, 23.1, 22.1, 21.8, 22.9, 21.7, 22.5, 23.3, 23.8, 24.1]
LA_ANK_PTS_P = [27.6, 28.4, 29.5, 28.9, 28.3, 28.6, 28.1, 28.5, 27.8, 27.5,
                27.8, 27.4, 27.7, 27.9, 28.2, 27.6, 28.4, 28.9, 28.6, 29.3,
                28.9, 29.5, 29.2, 28.9, 29.1]

# ---------------- axes, bands, labels ----------------
X_TICK_U = [50, 100, 130, 180, 230, 280, 380, 430, 461, 511]
X_TICK_LABELS = ["50", "100", "0", "50", "100", "150", "450", "500", "0", "50"]
SEP_U = [115, 446]
SECTION_NAMES = ["Baseline", "Adaptation", "Post-Adaptation"]
SECTION_U = [51, 261.5, 478]
BAND_NAMES = ["Baseline", "Early Adapt", "Late Adapt", "Early Post-Adapt", "Late Post-Adapt"]
BAND_PHASE = ["B", "A", "A", "P", "P"]
BAND_START_C = [86, 1, 486.5, 1.5, 36]
BAND_END_C = [100, 10, 500, 10, 50.5]
BAND_FILL = ["#3c6cc1", "#e97e5b", "#803923", "#39b185", "#1f6144"]
LEGEND_COLORS = ["#1c4ea6", "#e27852", "#4c1c10", "#18986c", "#0f3b2a"]
MAIN_TITLE = "Adaptation Time Series for Range of Motion (ROM) of Each Joint"

W, H = 698, 207
X_MAX = 511.5
FONT = "Liberation Sans"
LEG_PATH = "M-2.3,-0.13L2.3,-0.13L2.3,0.13L-2.3,0.13Z"


def to_u(phase, c):
    if phase == "B":
        return c
    if phase == "A":
        return 130 + c if c <= 200 else c - 70
    return 461 + c


def label_expr(us, labels):
    expr = "''"
    for u, lab in reversed(list(zip(us, labels))):
        expr = f"datum.value == {u} ? '{lab}' : {expr}"
    return expr


def panel(title, mean, up, lo, pts, ydom, yticks, nxt, line_col, pt_stroke, pt_fill, extra=()):
    rows = []
    for phase, cyc, m, a, b in (("B", BASE_LINE_C, mean[0], up[0], lo[0]),
                                ("A", ADAPT_LINE_C, mean[1], up[1], lo[1]),
                                ("P", POST_LINE_C, mean[2], up[2], lo[2])):
        for c, mv, uv, lv in zip(cyc, m, a, b):
            rows.append({"u": to_u(phase, c), "seg": phase, "mean": mv, "up": uv, "lo": lv})
    ldf = pd.DataFrame(rows)
    prow = []
    for phase, cyc, vals in (("B", BASE_PT_C, pts[0]), ("A", ADAPT_PT_C, pts[1]), ("P", POST_PT_C, pts[2])):
        for c, v in zip(cyc, vals):
            prow.append({"u": to_u(phase, c), "v": v})
    pdf = pd.DataFrame(prow)
    bdf = pd.DataFrame({
        "u": [to_u(p, s) for p, s in zip(BAND_PHASE, BAND_START_C)],
        "u2": [min(to_u(p, e), X_MAX) for p, e in zip(BAND_PHASE, BAND_END_C)],
        "fill": BAND_FILL,
    })
    xt_u = X_TICK_U[:nxt]
    xt_l = X_TICK_LABELS[:nxt]
    xs = alt.Scale(domain=[0, X_MAX], nice=False, zero=False)
    ys = alt.Scale(domain=ydom, nice=False, zero=False)
    xaxis = alt.Axis(values=xt_u, labelExpr=label_expr(xt_u, xt_l), title="Gait Cycle Number",
                     labelOverlap=False, labelFlush=False)
    yaxis = alt.Axis(values=yticks, title="Degrees", format="d")
    X = alt.X("u:Q", scale=xs, axis=xaxis)

    def Y(f):
        return alt.Y(f, type="quantitative", scale=ys, axis=yaxis)

    base = alt.Chart(ldf)
    up_l = base.mark_line(color="#a8a8a8", strokeWidth=1.3).encode(x=X, y=Y("up"), detail="seg:N")
    lo_l = base.mark_line(color="#a8a8a8", strokeWidth=1.3).encode(x=X, y=Y("lo"), detail="seg:N")
    ptl = alt.Chart(pdf).mark_point(shape="circle", size=48, fill=pt_fill, fillOpacity=0.75,
                                    stroke=pt_stroke, strokeWidth=1).encode(x=X, y=Y("v"))
    mean_l = base.mark_line(color=line_col, strokeWidth=4.5).encode(x=X, y=Y("mean"), detail="seg:N")
    bands = alt.Chart(bdf).mark_rect(fillOpacity=0.45, strokeWidth=0).encode(
        x=X, x2="u2:Q", y=alt.value(0), y2=alt.value(H), fill=alt.Fill("fill:N", scale=None))
    seps = alt.Chart(pd.DataFrame({"u": SEP_U})).mark_rule(
        color="#3a3a3a", strokeWidth=1.2, strokeDash=[11, 7]).encode(x=X, y=alt.value(8), y2=alt.value(H))
    xtk = alt.Chart(pd.DataFrame({"u": xt_u})).mark_rule(color="#808080", strokeWidth=1).encode(
        x=X, y=alt.value(H), y2=alt.value(H - 7))
    ytk = alt.Chart(pd.DataFrame({"yt": yticks})).mark_rule(color="#808080", strokeWidth=1).encode(
        y=Y("yt"), x=alt.value(0), x2=alt.value(7))
    sec = alt.Chart(pd.DataFrame({"u": SECTION_U, "t": SECTION_NAMES})).mark_text(
        fontSize=16, font=FONT, color="#222222", baseline="middle").encode(x=X, y=alt.value(-13), text="t:N")
    ttl = alt.Chart(pd.DataFrame({"t": [title]})).mark_text(
        fontSize=17.5, font=FONT, fontWeight="bold", color="#111111", baseline="middle").encode(
        x=alt.value(W / 2), y=alt.value(-35), text="t:N")
    brk = alt.Chart(pd.DataFrame({"u": [330], "t": ["//"]})).mark_text(
        fontSize=14, font=FONT, color="#333333", baseline="middle").encode(x=X, y=alt.value(H - 5), text="t:N")
    last = alt.Chart(pd.DataFrame({"u": [329], "t": ["Last 100 Cycles"]})).mark_text(
        fontSize=13, font=FONT, color="#222222", align="left", baseline="top", angle=33).encode(
        x=X, y=alt.value(H + 3), text="t:N")
    return alt.layer(up_l, lo_l, ptl, mean_l, bands, seps, xtk, ytk, sec, ttl, brk, last, *extra).properties(
        width=W, height=H)


# main title and legend, placed relative to the first panel's plot area
hdr_title = alt.Chart(pd.DataFrame({"t": [MAIN_TITLE]})).mark_text(
    fontSize=22, font=FONT, fontWeight="bold", color="#111111", baseline="middle").encode(
    x=alt.value(771), y=alt.value(-82), text="t:N")
hdr_leg = alt.Chart(pd.DataFrame({"name": pd.Series([], dtype=str)})).mark_point(
    filled=True, opacity=1, fillOpacity=1, size=400, shape=LEG_PATH).encode(
    x=alt.value(10), y=alt.value(10),
    color=alt.Color("name:N", scale=alt.Scale(domain=BAND_NAMES, range=LEGEND_COLORS),
                    legend=alt.Legend(title=None, orient="none", legendX=1403, legendY=-217,
                                      symbolType=LEG_PATH, symbolSize=400, symbolStrokeWidth=0,
                                      symbolOpacity=1, symbolOffset=13, labelOffset=19,
                                      labelFontSize=18, labelFont=FONT,
                                      labelColor="#111111", strokeColor="#8c8c8c", fillColor="white",
                                      padding=5, rowPadding=4, labelLimit=400)))

MA = dict(line_col="#3d4300", pt_stroke="#5c5c18", pt_fill="#e8e6bc")
LA = dict(line_col="#4b7385", pt_stroke="#56808f", pt_fill="#dde8ec")

p_ma_hip = panel("MA Hip ROM", (MA_HIP_MEAN_B, MA_HIP_MEAN_A, MA_HIP_MEAN_P),
                 (MA_HIP_UP_B, MA_HIP_UP_A, MA_HIP_UP_P), (MA_HIP_LO_B, MA_HIP_LO_A, MA_HIP_LO_P),
                 (MA_HIP_PTS_B, MA_HIP_PTS_A, MA_HIP_PTS_P), [36, 48], list(range(36, 49, 2)), 10,
                 extra=(hdr_title, hdr_leg), **MA)
p_la_hip = panel("LA Hip ROM", (LA_HIP_MEAN_B, LA_HIP_MEAN_A, LA_HIP_MEAN_P),
                 (LA_HIP_UP_B, LA_HIP_UP_A, LA_HIP_UP_P), (LA_HIP_LO_B, LA_HIP_LO_A, LA_HIP_LO_P),
                 (LA_HIP_PTS_B, LA_HIP_PTS_A, LA_HIP_PTS_P), [34, 47.4], list(range(34, 47, 2)), 10, **LA)
p_ma_knee = panel("MA Knee ROM", (MA_KNEE_MEAN_B, MA_KNEE_MEAN_A, MA_KNEE_MEAN_P),
                  (MA_KNEE_UP_B, MA_KNEE_UP_A, MA_KNEE_UP_P), (MA_KNEE_LO_B, MA_KNEE_LO_A, MA_KNEE_LO_P),
                  (MA_KNEE_PTS_B, MA_KNEE_PTS_A, MA_KNEE_PTS_P), [48, 60], list(range(48, 61, 2)), 10, **MA)
p_la_knee = panel("LA Knee ROM", (LA_KNEE_MEAN_B, LA_KNEE_MEAN_A, LA_KNEE_MEAN_P),
                  (LA_KNEE_UP_B, LA_KNEE_UP_A, LA_KNEE_UP_P), (LA_KNEE_LO_B, LA_KNEE_LO_A, LA_KNEE_LO_P),
                  (LA_KNEE_PTS_B, LA_KNEE_PTS_A, LA_KNEE_PTS_P), [48, 60], list(range(48, 61, 2)), 10, **LA)
p_ma_ank = panel("MA Ankle ROM", (MA_ANK_MEAN_B, MA_ANK_MEAN_A, MA_ANK_MEAN_P),
                 (MA_ANK_UP_B, MA_ANK_UP_A, MA_ANK_UP_P), (MA_ANK_LO_B, MA_ANK_LO_A, MA_ANK_LO_P),
                 (MA_ANK_PTS_B, MA_ANK_PTS_A, MA_ANK_PTS_P), [22.9, 36], list(range(24, 37, 2)), 9, **MA)
p_la_ank = panel("LA Ankle ROM", (LA_ANK_MEAN_B, LA_ANK_MEAN_A, LA_ANK_MEAN_P),
                 (LA_ANK_UP_B, LA_ANK_UP_A, LA_ANK_UP_P), (LA_ANK_LO_B, LA_ANK_LO_A, LA_ANK_LO_P),
                 (LA_ANK_PTS_B, LA_ANK_PTS_A, LA_ANK_PTS_P), [20, 32.9], list(range(20, 33, 2)), 9, **LA)

chart = alt.concat(p_ma_hip, p_la_hip, p_ma_knee, p_la_knee, p_ma_ank, p_la_ank,
                   columns=2, spacing={"row": 104, "column": 221}, bounds="flush").properties(
    padding={"left": 0, "top": 3, "right": 0, "bottom": 0}, background="white"
).configure_view(stroke="transparent", strokeWidth=0).configure(font=FONT).configure_axis(
    grid=False, ticks=False, domainColor="#808080", domainWidth=1,
    labelColor="#262626", titleColor="#262626", labelFontSize=16, titleFontSize=16,
    titleFontWeight="normal", labelFont=FONT, titleFont=FONT
).configure_axisX(labelPadding=7, titlePadding=3).configure_axisY(labelPadding=8, titlePadding=3)

chart.save("out.html", embed_options={"renderer": "svg", "actions": False})
